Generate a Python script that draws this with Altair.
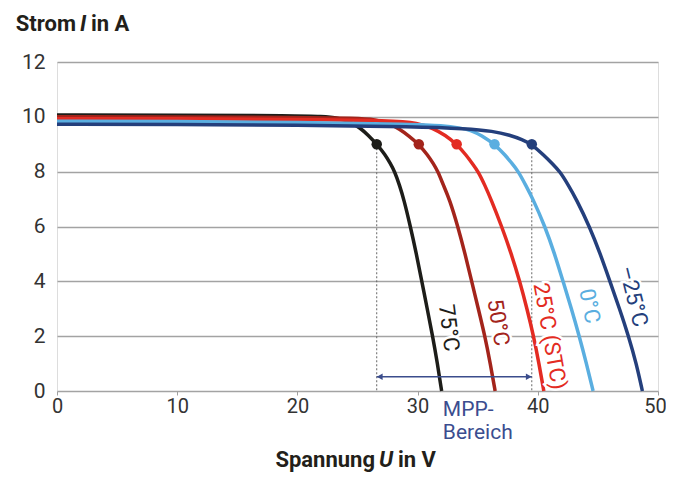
import altair as alt
import pandas as pd

# ---- data ----
series = ["75°C", "50°C", "25°C (STC)", "0°C", "–25°C"]
colors = ["#1d1d19", "#a3241b", "#e32b22", "#5aaee0", "#243f7c"]

u75 = [0, 10, 20, 22, 23.5, 24.4, 25.2, 25.9, 26.6, 27.3, 27.7, 28.1, 28.5, 28.85, 29.4, 29.9, 30.35, 30.8, 31.25, 31.65, 32.0]
i75 = [10.07, 10.06, 10.04, 10.02, 9.95, 9.82, 9.6, 9.33, 9.0, 8.62, 8.32, 8.0, 7.5, 7.0, 6.0, 5.0, 4.0, 3.0, 2.0, 1.0, 0.0]

u50 = [0, 10, 20, 25, 26.5, 27.6, 28.5, 29.3, 30.1, 30.85, 31.3, 31.7, 32.15, 32.65, 33.35, 33.95, 34.5, 35.05, 35.6, 36.05, 36.45]
i50 = [10.0, 10.0, 9.98, 9.95, 9.9, 9.78, 9.55, 9.3, 9.0, 8.6, 8.3, 8.0, 7.5, 7.0, 6.0, 5.0, 4.0, 3.0, 2.0, 1.0, 0.0]

u25 = [0, 10, 20, 28, 30, 31.3, 32.3, 33.25, 34.05, 34.55, 35.05, 35.6, 36.1, 37.0, 37.8, 38.5, 39.1, 39.65, 40.1, 40.5]
i25 = [9.93, 9.93, 9.91, 9.87, 9.78, 9.58, 9.33, 9.0, 8.6, 8.3, 8.0, 7.5, 7.0, 6.0, 5.0, 4.0, 3.0, 2.0, 1.0, 0.0]

u0 = [0, 10, 20, 30, 32, 33.5, 34.5, 35.3, 36.4, 37.3, 37.85, 38.4, 39.0, 39.6, 40.6, 41.4, 42.1, 42.8, 43.45, 44.05, 44.6]
i0 = [9.84, 9.83, 9.8, 9.73, 9.68, 9.6, 9.5, 9.32, 9.0, 8.6, 8.3, 8.0, 7.5, 7.0, 6.0, 5.0, 4.0, 3.0, 2.0, 1.0, 0.0]

um25 = [0, 10, 20, 30, 34, 36.3, 37.7, 38.7, 39.5, 40.5, 41.2, 41.85, 42.55, 43.2, 44.3, 45.2, 46.0, 46.8, 47.55, 48.2, 48.7]
im25 = [9.73, 9.72, 9.7, 9.64, 9.57, 9.48, 9.33, 9.17, 9.0, 8.6, 8.3, 8.0, 7.5, 7.0, 6.0, 5.0, 4.0, 3.0, 2.0, 1.0, 0.0]

mpp_u = [26.6, 30.1, 33.25, 36.4, 39.5]
mpp_i = [9.0, 9.0, 9.0, 9.0, 9.0]

label_u = [32.6, 36.7, 41.0, 44.3, 47.95]
label_i = [2.3, 2.5, 2.0, 3.1, 3.45]
label_angle = [83, 81, 80, 79, 76]

mpp_range = [26.6, 39.5]
arrow_i = [0.52, 0.52]

x_ticks = [0, 10, 20, 30, 40, 50]
y_ticks = [0, 2, 4, 6, 8, 10, 12]

FONT = "Roboto"

# ---- tables ----
curves = pd.concat([
    pd.DataFrame({"U": u, "I": i, "T": s})
    for s, u, i in zip(series, [u75, u50, u25, u0, um25], [i75, i50, i25, i0, im25])
])
mpp = pd.DataFrame({"U": mpp_u, "I": mpp_i, "T": series})
labels = pd.DataFrame({"U": label_u, "I": label_i, "T": series, "ang": label_angle})
vlines = pd.DataFrame({"U": mpp_range, "I": [mpp_i[0], mpp_i[-1]], "I0": [0, 0]})
arrow = pd.DataFrame({"U": [mpp_range[0]], "U2": [mpp_range[1]], "I": [arrow_i[0]]})
heads = pd.DataFrame({"U": [mpp_range[0] + 0.25, mpp_range[1] - 0.25], "I": arrow_i,
                      "shape": ["triangle-left", "triangle-right"]})

xscale = alt.Scale(domain=[0, 50], nice=False, zero=False)
yscale = alt.Scale(domain=[0, 12], nice=False)
cscale = alt.Scale(domain=series, range=colors)

xaxis = alt.Axis(values=x_ticks, grid=False, domain=False, ticks=True, tickSize=4,
                 tickColor="#a0a0a0", labelFont=FONT, labelFontSize=20, labelColor="#333333",
                 labelPadding=1, labelFlush=False, title=None,
                 labelOffset={"condition": {"test": "datum.value == 50", "value": -3}, "value": 0})
yaxis = alt.Axis(values=y_ticks, grid=True, gridColor="#a3a3a3", gridWidth=1.5, domain=False,
                 ticks=False, labelFont=FONT, labelFontSize=21, labelColor="#333333",
                 labelPadding=12, title=None)

base = alt.Chart(curves)

grid = alt.Chart(pd.DataFrame({"I": y_ticks})).mark_rule(opacity=0).encode(
    x=alt.X("U0:Q", scale=xscale, axis=xaxis),
    y=alt.Y("I:Q", scale=yscale, axis=yaxis),
).transform_calculate(U0="0")

dashed = alt.Chart(vlines).mark_rule(color="#666666", strokeWidth=1, strokeDash=[2, 2]).encode(
    x=alt.X("U:Q", scale=xscale),
    y=alt.Y("I:Q", scale=yscale),
    y2="I0:Q",
)

lines = base.mark_line(strokeWidth=3.5, interpolate="basis").encode(
    x=alt.X("U:Q", scale=xscale),
    y=alt.Y("I:Q", scale=yscale),
    color=alt.Color("T:N", scale=cscale, legend=None),
    detail="T:N",
)

dots = alt.Chart(mpp).mark_circle(size=110, opacity=1).encode(
    x=alt.X("U:Q", scale=xscale),
    y=alt.Y("I:Q", scale=yscale),
    color=alt.Color("T:N", scale=cscale, legend=None),
)

arrow_line = alt.Chart(arrow).mark_rule(color="#3b4d8c", strokeWidth=1.3).encode(
    x=alt.X("U:Q", scale=xscale), x2="U2:Q", y=alt.Y("I:Q", scale=yscale)
)
arrow_heads = alt.Chart(heads).mark_point(filled=True, size=45, color="#3b4d8c", opacity=1).encode(
    x=alt.X("U:Q", scale=xscale),
    y=alt.Y("I:Q", scale=yscale),
    shape=alt.Shape("shape:N", scale=None),
)

halo = alt.Chart(labels).mark_text(font=FONT, fontSize=22, stroke="white", strokeWidth=5,
                                   align="center", baseline="middle").encode(
    x=alt.X("U:Q", scale=xscale), y=alt.Y("I:Q", scale=yscale),
    text="T:N", angle=alt.Angle("ang:Q", scale=None),
)
label_text = alt.Chart(labels).mark_text(font=FONT, fontSize=22, align="center",
                                         baseline="middle").encode(
    x=alt.X("U:Q", scale=xscale), y=alt.Y("I:Q", scale=yscale),
    text="T:N", angle=alt.Angle("ang:Q", scale=None),
    color=alt.Color("T:N", scale=cscale, legend=None),
)

mpp_text = alt.Chart(pd.DataFrame({"U": [32.1], "t": ["MPP-\nBereich"]})).mark_text(
    font=FONT, fontSize=21, lineHeight=23, align="left", baseline="top", color="#3b4d8f",
    lineBreak="\n",
).encode(x=alt.X("U:Q", scale=xscale), y=alt.value(337), text="t:N")

def title_piece(text, x, y, align, italic=False):
    return alt.Chart(pd.DataFrame({"t": [text]})).mark_text(
        font=FONT, fontSize=22, fontWeight="bold", fontStyle="italic" if italic else "normal",
        align=align, baseline="alphabetic", color="#231f1a",
    ).encode(x=alt.value(x), y=alt.value(y), text="t:N")

titles = [
    title_piece("Strom", 19, -31, "right"),
    title_piece("I", 26, -31, "center", italic=True),
    title_piece("in A", 34, -31, "left"),
    title_piece("Spannung", 318, 405, "right"),
    title_piece("U", 329, 405, "center", italic=True),
    title_piece("in V", 341, 405, "left"),
]

chart = alt.layer(grid, dashed, lines, dots, arrow_line, arrow_heads, halo, label_text,
                  mpp_text, *titles).properties(
    width=601, height=329,
    autosize=alt.AutoSizeParams(type="none"),
    padding={"left": 49, "top": 54, "right": 8, "bottom": 83},
).configure_view(stroke="#a3a3a3", strokeWidth=1.5).configure(background="white")

chart.save("out.html", embed_options={"renderer": "svg", "actions": False})
